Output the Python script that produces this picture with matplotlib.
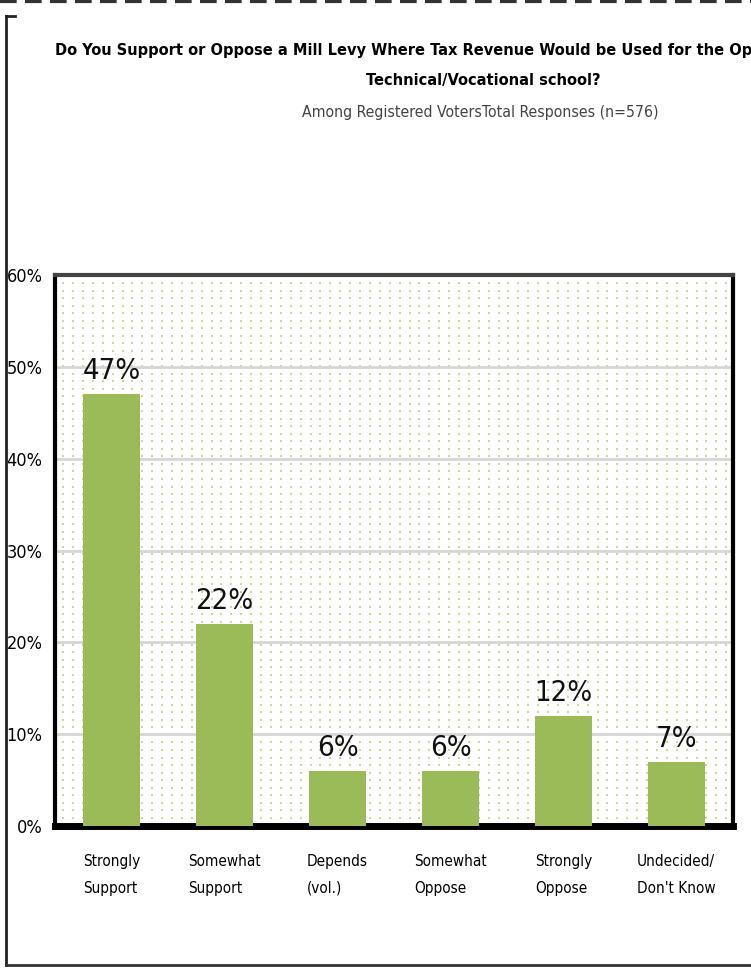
import numpy as np
import matplotlib
matplotlib.use("Agg")
import matplotlib.pyplot as plt
from matplotlib.lines import Line2D

plt.rcParams['font.family'] = ['DejaVu Sans']
plt.rcParams['font.stretch'] = 'condensed'

categories = ["Strongly\nSupport", "Somewhat\nSupport", "Depends\n(vol.)",
              "Somewhat\nOppose", "Strongly\nOppose", "Undecided/\nDon't Know"]
values = [47, 22, 6, 6, 12, 7]
yticks = [0, 10, 20, 30, 40, 50, 60]

fig = plt.figure(figsize=(7.51, 9.71), dpi=100)
ax = fig.add_axes([55 / 751, 145 / 971, 678 / 751, 551 / 971])

# dotted background pattern
gx, gy = np.meshgrid(np.linspace(0.012, 0.99, 68), np.linspace(0.015, 0.985, 72))
ax.scatter(gx.ravel(), gy.ravel(), marker='|', s=2, lw=1.2, color='#bcd288',
           transform=ax.transAxes, zorder=0)

x = np.arange(len(values))
ax.bar(x, values, width=0.51, color='#9bbb59', zorder=3)
for xi, v in zip(x, values):
    ax.text(xi, v + 1.0, f"{v}%", ha='center', va='bottom', fontsize=21,
            color='#111111', zorder=4)

ax.set_xlim(-0.5, 5.5)
ax.set_ylim(0, 60)
ax.set_yticks(yticks)
ax.yaxis.grid(True, color='#d6d6d6', lw=2, zorder=1)
ax.set_axisbelow(True)
ax.set_yticklabels([f"{t}%" for t in yticks], fontsize=13)
ax.tick_params(axis='y', length=0, pad=9)
ax.set_xticks(x)
ax.set_xticklabels(categories, fontsize=11, linespacing=2.0, multialignment='left')
ax.tick_params(axis='x', length=0, pad=20)

ax.spines['top'].set_color('#444444')
ax.spines['top'].set_linewidth(3)
ax.spines['left'].set_linewidth(3)
ax.spines['right'].set_linewidth(3)
ax.spines['bottom'].set_linewidth(5)

# titles
fig.text(55 / 751, 1 - 50 / 971,
         "Do You Support or Oppose a Mill Levy Where Tax Revenue Would be Used for the Op",
         ha='left', va='center', fontsize=11.7, fontweight='bold')
fig.text(483 / 751, 1 - 80 / 971, "Technical/Vocational school?",
         ha='center', va='center', fontsize=11.7, fontweight='bold')
fig.text(480 / 751, 1 - 113 / 971, "Among Registered VotersTotal Responses (n=576)",
         ha='center', va='center', fontsize=11.3, color='#444444')

# screenshot frame
fig.add_artist(Line2D([0, 1], [1 - 1 / 971, 1 - 1 / 971], color='#333333', lw=3, ls=(0, (4, 2))))
fig.add_artist(Line2D([6 / 751, 6 / 751], [1 - 16 / 971, 1 - 965 / 971], color='#222222', lw=2))
fig.add_artist(Line2D([6 / 751, 15 / 751], [1 - 16 / 971, 1 - 16 / 971], color='#222222', lw=2))
fig.add_artist(Line2D([6 / 751, 1], [1 - 965 / 971, 1 - 965 / 971], color='#333333', lw=2))

fig.savefig("out.png", dpi=100)
